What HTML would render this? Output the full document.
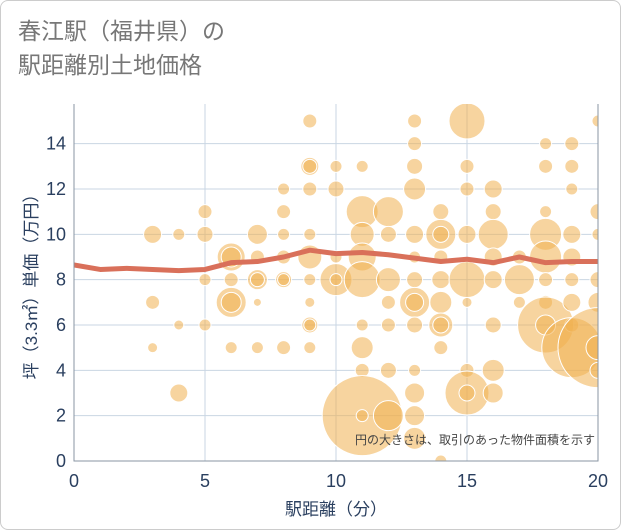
<!DOCTYPE html>
<html><head><meta charset="utf-8">
<style>
body{margin:0;background:#fff;font-family:"Liberation Sans","Noto Sans CJK JP",sans-serif;}
#wrap{position:relative;width:619px;height:528px;border:1px solid #ccc;border-radius:8px;overflow:hidden;}
#title{position:absolute;left:17px;top:13px;font-size:23px;line-height:34px;color:#777;}
</style></head><body>
<div id="wrap">
<div id="title">春江駅（福井県）の<br>駅距離別土地価格</div>
<svg id="chart" width="621" height="530" style="position:absolute;left:0;top:0"></svg>
</div>
<script>
const xTicks=[0,5,10,15,20];
const yTicks=[0,2,4,6,8,10,12,14];
const lineX=[0,1,2,3,4,5,6,7,8,9,10,11,12,13,14,15,16,17,18,19,20];
const lineY=[8.65,8.45,8.5,8.45,8.4,8.45,8.75,8.8,9.0,9.3,9.15,9.2,9.1,8.95,8.8,8.9,8.75,9.0,8.75,8.8,8.8];
const bx=[3,3,3,4,4,4,5,5,5,5,6,6,6,6,6,6,7,7,7,7,7,7,8,8,8,8,8,8,8,9,9,9,9,9,9,9,9,9,9,9,10,10,10,10,10,11,11,11,11,11,11,11,11,11,11,12,12,12,12,12,12,12,13,13,13,13,13,13,13,13,13,13,13,13,13,13,14,14,14,14,14,14,14,14,14,14,15,15,15,15,15,15,15,15,15,16,16,16,16,16,16,16,16,17,17,17,18,18,18,18,18,18,18,18,18,19,19,19,19,19,19,19,19,19,20,20,20,20,20,20,20,20];
const by=[10,7,5,10,6,3,11,10,8,6,9,9,8,7,7,5,10,9,8,8,7,5,12,11,10,9,8,8,5,15,13,13,12,10,9,8,7,6,6,5,13,12,9,8,8,13,11,10,9,8,6,5,4,2,2,11,10,8,7,6,4,2,15,14,13,12,10,9,8,7,7,6,4,3,2,1,11,10,10,9,8,7,6,6,5,0,15,13,12,10,8,7,4,3,3,12,11,10,9,8,6,4,3,8,9,7,14,13,11,10,9,8,7,6,6,14,13,12,10,9,8,7,6,5,15,11,10,8,7,5,5,4];
const br=[9,7,5,6,5,9,7,8,6,6,14,10,7,15,10,6,10,7,10,7,4,6,6,7,6,7,8,6,7,7,9,7,7,6,12,6,5,8,6,6,6,8,6,16,6,6,16,12,14,18,6,11,7,40,6,15,8,12,7,7,8,15,7,7,8,11,9,6,8,15,9,8,6,10,10,11,8,15,8,7,9,11,12,8,7,6,18,7,7,9,18,5,7,22,8,9,8,15,9,9,8,11,10,15,7,6,6,7,6,16,16,7,7,28,10,7,7,6,9,9,7,9,7,30,6,8,6,8,10,40,12,8];
const L=73,R=597,T=103,B=460,XMAX=20,YMAX=15.75;
const sx=v=>L+(R-L)*v/XMAX, sy=v=>B-(B-T)*v/YMAX;
const svg=document.getElementById('chart');const NS='http://www.w3.org/2000/svg';
function mk(t,a,p){const e=document.createElementNS(NS,t);for(const k in a)e.setAttribute(k,a[k]);(p||svg).appendChild(e);return e;}
const clip=mk('clipPath',{id:'pc'});mk('rect',{x:L,y:T,width:R-L,height:B-T},clip);
yTicks.forEach(v=>{const g=mk('line',{x1:L,x2:R,y1:sy(v),y2:sy(v),stroke:'#c9d6e3','stroke-width':1});

const t=mk('text',{x:L-8,y:sy(v)+6,'text-anchor':'end','font-size':18,fill:'#2a3f5f'});t.textContent=v;
});
xTicks.forEach(v=>{const g=mk('line',{x1:sx(v),x2:sx(v),y1:T,y2:B,stroke:'#c9d6e3','stroke-width':1});

const t=mk('text',{x:sx(v),y:B+26,'text-anchor':'middle','font-size':18,fill:'#2a3f5f'});t.textContent=v;
});
const gb=mk('g',{'clip-path':'url(#pc)'});

bx.forEach((x,i)=>{const c=mk('circle',{cx:sx(x),cy:sy(by[i]),r:br[i],fill:'#f0b050','fill-opacity':0.55,stroke:'#fff','stroke-width':1},gb);
});
const p=mk('polyline',{points:lineX.map((x,i)=>sx(x)+','+sy(lineY[i])).join(' '),fill:'none',stroke:'#d9705a','stroke-width':5,'stroke-linejoin':'round','clip-path':'url(#pc)'});

const ax=mk('path',{d:`M${L},${T}V${B}H${R}V${T}`,fill:'none',stroke:'#8a96a3','stroke-width':1});

const note=mk('text',{x:R-3,y:443,'text-anchor':'end','font-size':12,fill:'#444'});note.textContent='円の大きさは、取引のあった物件面積を示す';

const xt=mk('text',{x:(L+R)/2,y:514,'text-anchor':'middle','font-size':17,fill:'#2a3f5f'});xt.textContent='駅距離（分）';

const yt=mk('text',{x:0,y:0,'text-anchor':'middle','font-size':17,fill:'#2a3f5f',transform:`translate(36,${(T+B)/2}) rotate(-90)`});yt.textContent='坪（3.3㎡）単価（万円）';

</script>
</body></html>
